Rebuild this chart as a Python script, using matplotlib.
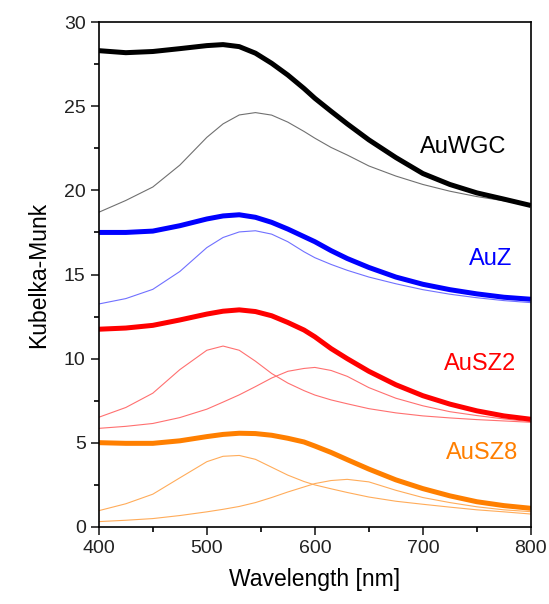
import matplotlib.pyplot as plt

plt.rcParams['font.family'] = ['Liberation Sans', 'DejaVu Sans']

wl = [400, 425, 450, 475, 500, 515, 530, 545, 560, 575, 590, 600, 615, 630, 650, 675, 700, 725, 750, 775, 800]

auwgc = [28.3, 28.18, 28.25, 28.42, 28.6, 28.66, 28.54, 28.15, 27.55, 26.85, 26.05, 25.47, 24.7, 23.95,
         23.0, 21.95, 21.0, 20.35, 19.85, 19.48, 19.1]
auwgc_fit = [18.7, 19.4, 20.2, 21.5, 23.15, 23.95, 24.48, 24.62, 24.47, 24.05, 23.5, 23.1, 22.55, 22.1,
             21.45, 20.85, 20.35, 19.95, 19.63, 19.38, 19.1]

auz = [17.5, 17.5, 17.58, 17.9, 18.3, 18.48, 18.55, 18.4, 18.1, 17.7, 17.25, 16.95, 16.42, 15.95,
       15.42, 14.85, 14.42, 14.1, 13.85, 13.65, 13.53]
auz_fit = [13.25, 13.57, 14.12, 15.18, 16.6, 17.2, 17.53, 17.6, 17.4, 16.95, 16.35, 16.0, 15.6, 15.25,
           14.85, 14.45, 14.1, 13.83, 13.62, 13.45, 13.33]

ausz2 = [11.75, 11.82, 11.98, 12.3, 12.65, 12.82, 12.9, 12.8, 12.55, 12.15, 11.7, 11.3, 10.6, 10.0,
         9.25, 8.45, 7.8, 7.3, 6.9, 6.6, 6.4]
ausz2_fit1 = [6.52, 7.1, 7.95, 9.35, 10.5, 10.75, 10.5, 9.85, 9.12, 8.55, 8.1, 7.84, 7.55, 7.32,
              7.03, 6.78, 6.6, 6.48, 6.38, 6.3, 6.22]
ausz2_fit2 = [5.86, 5.98, 6.15, 6.5, 7.0, 7.42, 7.85, 8.34, 8.85, 9.25, 9.42, 9.48, 9.3, 8.95,
              8.28, 7.65, 7.2, 6.85, 6.62, 6.42, 6.26]

ausz8 = [5.01, 4.97, 4.97, 5.12, 5.37, 5.5, 5.57, 5.55, 5.45, 5.27, 5.05, 4.81, 4.43, 4.0,
         3.44, 2.8, 2.28, 1.85, 1.5, 1.27, 1.11]
ausz8_fit1 = [0.97, 1.38, 1.95, 2.92, 3.88, 4.2, 4.25, 4.02, 3.55, 3.08, 2.7, 2.5, 2.27, 2.05,
              1.78, 1.53, 1.35, 1.18, 1.02, 0.9, 0.77]
ausz8_fit2 = [0.32, 0.4, 0.5, 0.68, 0.9, 1.05, 1.22, 1.45, 1.75, 2.08, 2.38, 2.58, 2.76, 2.83,
              2.68, 2.18, 1.75, 1.45, 1.2, 1.02, 0.91]

labels = ['AuWGC', 'AuZ', 'AuSZ2', 'AuSZ8']
label_x = [737, 763, 753, 755]
label_y = [22.6, 15.95, 9.7, 4.4]
colors = ['#000000', '#0000ff', '#ff0000', '#ff7f00']
thin_colors = ['#707070', '#7070ff', '#ff7070', '#ffac5a']

fig = plt.figure(figsize=(5.49, 6.04), dpi=100)
ax = fig.add_axes([0.180, 0.1275, 0.787, 0.836])

thick = [auwgc, auz, ausz2, ausz8]
thin = [[auwgc_fit], [auz_fit], [ausz2_fit1, ausz2_fit2], [ausz8_fit1, ausz8_fit2]]
for i in range(4):
    for fit in thin[i]:
        ax.plot(wl, fit, color=thin_colors[i], lw=0.8)
    ax.plot(wl, thick[i], color=colors[i], lw=3.6, solid_capstyle='butt', solid_joinstyle='round')
    ax.text(label_x[i], label_y[i], labels[i], color=colors[i], fontsize=17,
            ha='center', va='center')

ax.set_xlim(400, 800)
ax.set_ylim(0, 30)
ax.set_xticks([400, 500, 600, 700, 800])
ax.set_xticks([450, 550, 650, 750], minor=True)
ax.set_yticks([0, 5, 10, 15, 20, 25, 30])
ax.set_yticks([2.5, 7.5, 12.5, 17.5, 22.5, 27.5], minor=True)
ax.tick_params(which='major', direction='out', length=6, width=1.2, labelsize=14, colors='#222222')
ax.tick_params(which='minor', direction='out', length=3.5, width=1.2)
for s in ax.spines.values():
    s.set_linewidth(1.2)
ax.set_xlabel('Wavelength [nm]', fontsize=16.5, labelpad=8)
ax.set_ylabel('Kubelka-Munk', fontsize=16.5, labelpad=10)

fig.savefig('out.png', dpi=100)
